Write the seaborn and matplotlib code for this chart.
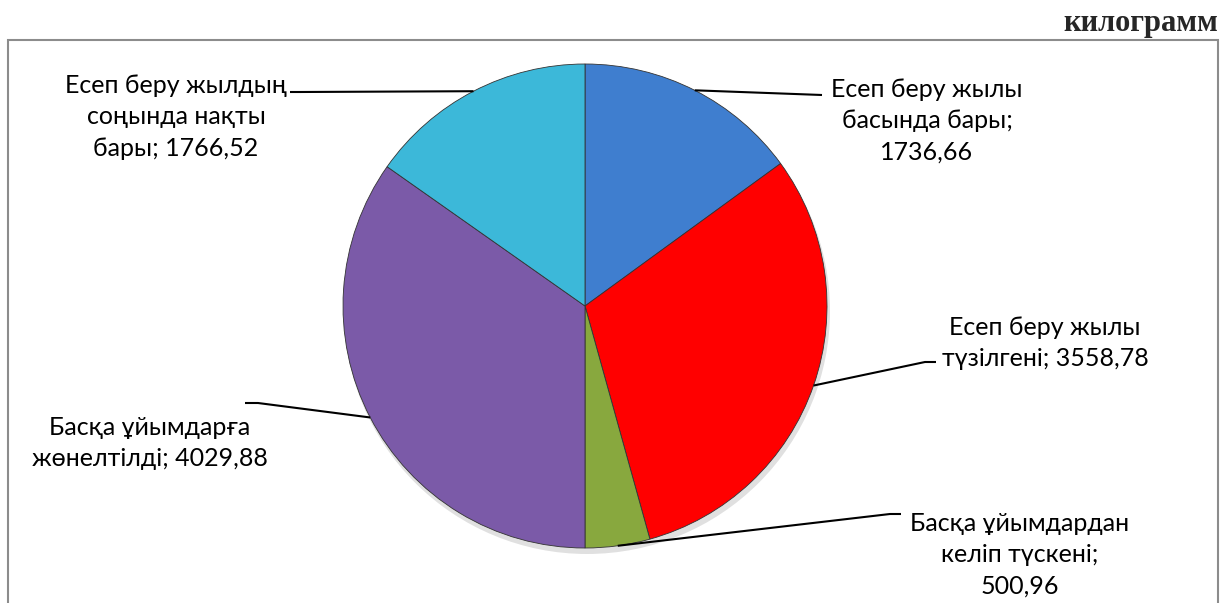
import numpy as np
import matplotlib
matplotlib.use("Agg")
import matplotlib.pyplot as plt
import seaborn as sns
from matplotlib.patches import Circle

# данные
labels = [
    "Есеп беру жылы\nбасында бары;\n1736,66",
    "Есеп беру жылы\nтүзілгені; 3558,78",
    "Басқа ұйымдардан\nкеліп түскені;\n500,96",
    "Басқа ұйымдарға\nжөнелтілді; 4029,88",
    "Есеп беру жылдың\nсоңында нақты\nбары; 1766,52",
]
values = [1736.66, 3558.78, 500.96, 4029.88, 1766.52]
colors = ["#3f7ecf", "#ff0000", "#88a83e", "#7b5aa8", "#3cb8d9"]
unit = "килограмм"

W, H = 1221, 603
sns.set_theme(style="white")
plt.rcParams["font.family"] = ["Lato", "DejaVu Sans"]

fig = plt.figure(figsize=(W / 100, H / 100), dpi=100)
ax = fig.add_axes([0, 0, 1, 1])

def Y(y):
    return H - y

cx, cy, r = 585, Y(306), 242

# лёгкая тень под диаграммой
ax.add_patch(Circle((cx + 2, cy - 5), r + 1, color="#000000", alpha=0.12, lw=0, zorder=1))

wedges, _ = ax.pie(values, colors=colors, startangle=90, counterclock=False,
                   center=(cx, cy), radius=r, frame=True,
                   wedgeprops=dict(edgecolor="#333333", linewidth=0.6, zorder=2))
ax.set_xlim(0, W)
ax.set_ylim(0, H)
ax.set_aspect("equal")
ax.axis("off")

# подписи: (излом x, y), (конец x), (центр текста x, y)
label_pos = [
    ((822, 95), 822, (927, 121)),
    ((925, 362), 936, (1045, 343)),
    ((890, 514), 901, (1020, 555)),
    ((258, 403), 245, (150, 443)),
    ((300, 92), 290, (176, 117)),
]

for w, lab, (elb, xend, tpos) in zip(wedges, labels, label_pos):
    ang = np.deg2rad((w.theta1 + w.theta2) / 2)
    x0 = cx + r * np.cos(ang)
    y0 = cy + r * np.sin(ang)
    ax.plot([x0, elb[0], xend], [y0, Y(elb[1]), Y(elb[1])], color="black", lw=1.5,
            solid_capstyle="butt", zorder=3)
    ax.text(tpos[0], Y(tpos[1]), lab, ha="center", va="center", fontsize=18,
            linespacing=1.45, color="black", zorder=4)

# рамка
ax.plot([8, 8, 1218, 1218], [-5, Y(40), Y(40), -5], color="#8c8c8c", lw=1.5,
        solid_joinstyle="miter", zorder=5)

fig.text(1218 / W, 1 - 24 / H, unit, ha="right", va="center", fontsize=22,
         fontweight="bold", family=["Liberation Serif", "DejaVu Serif"])

fig.savefig("out.png", dpi=100)
